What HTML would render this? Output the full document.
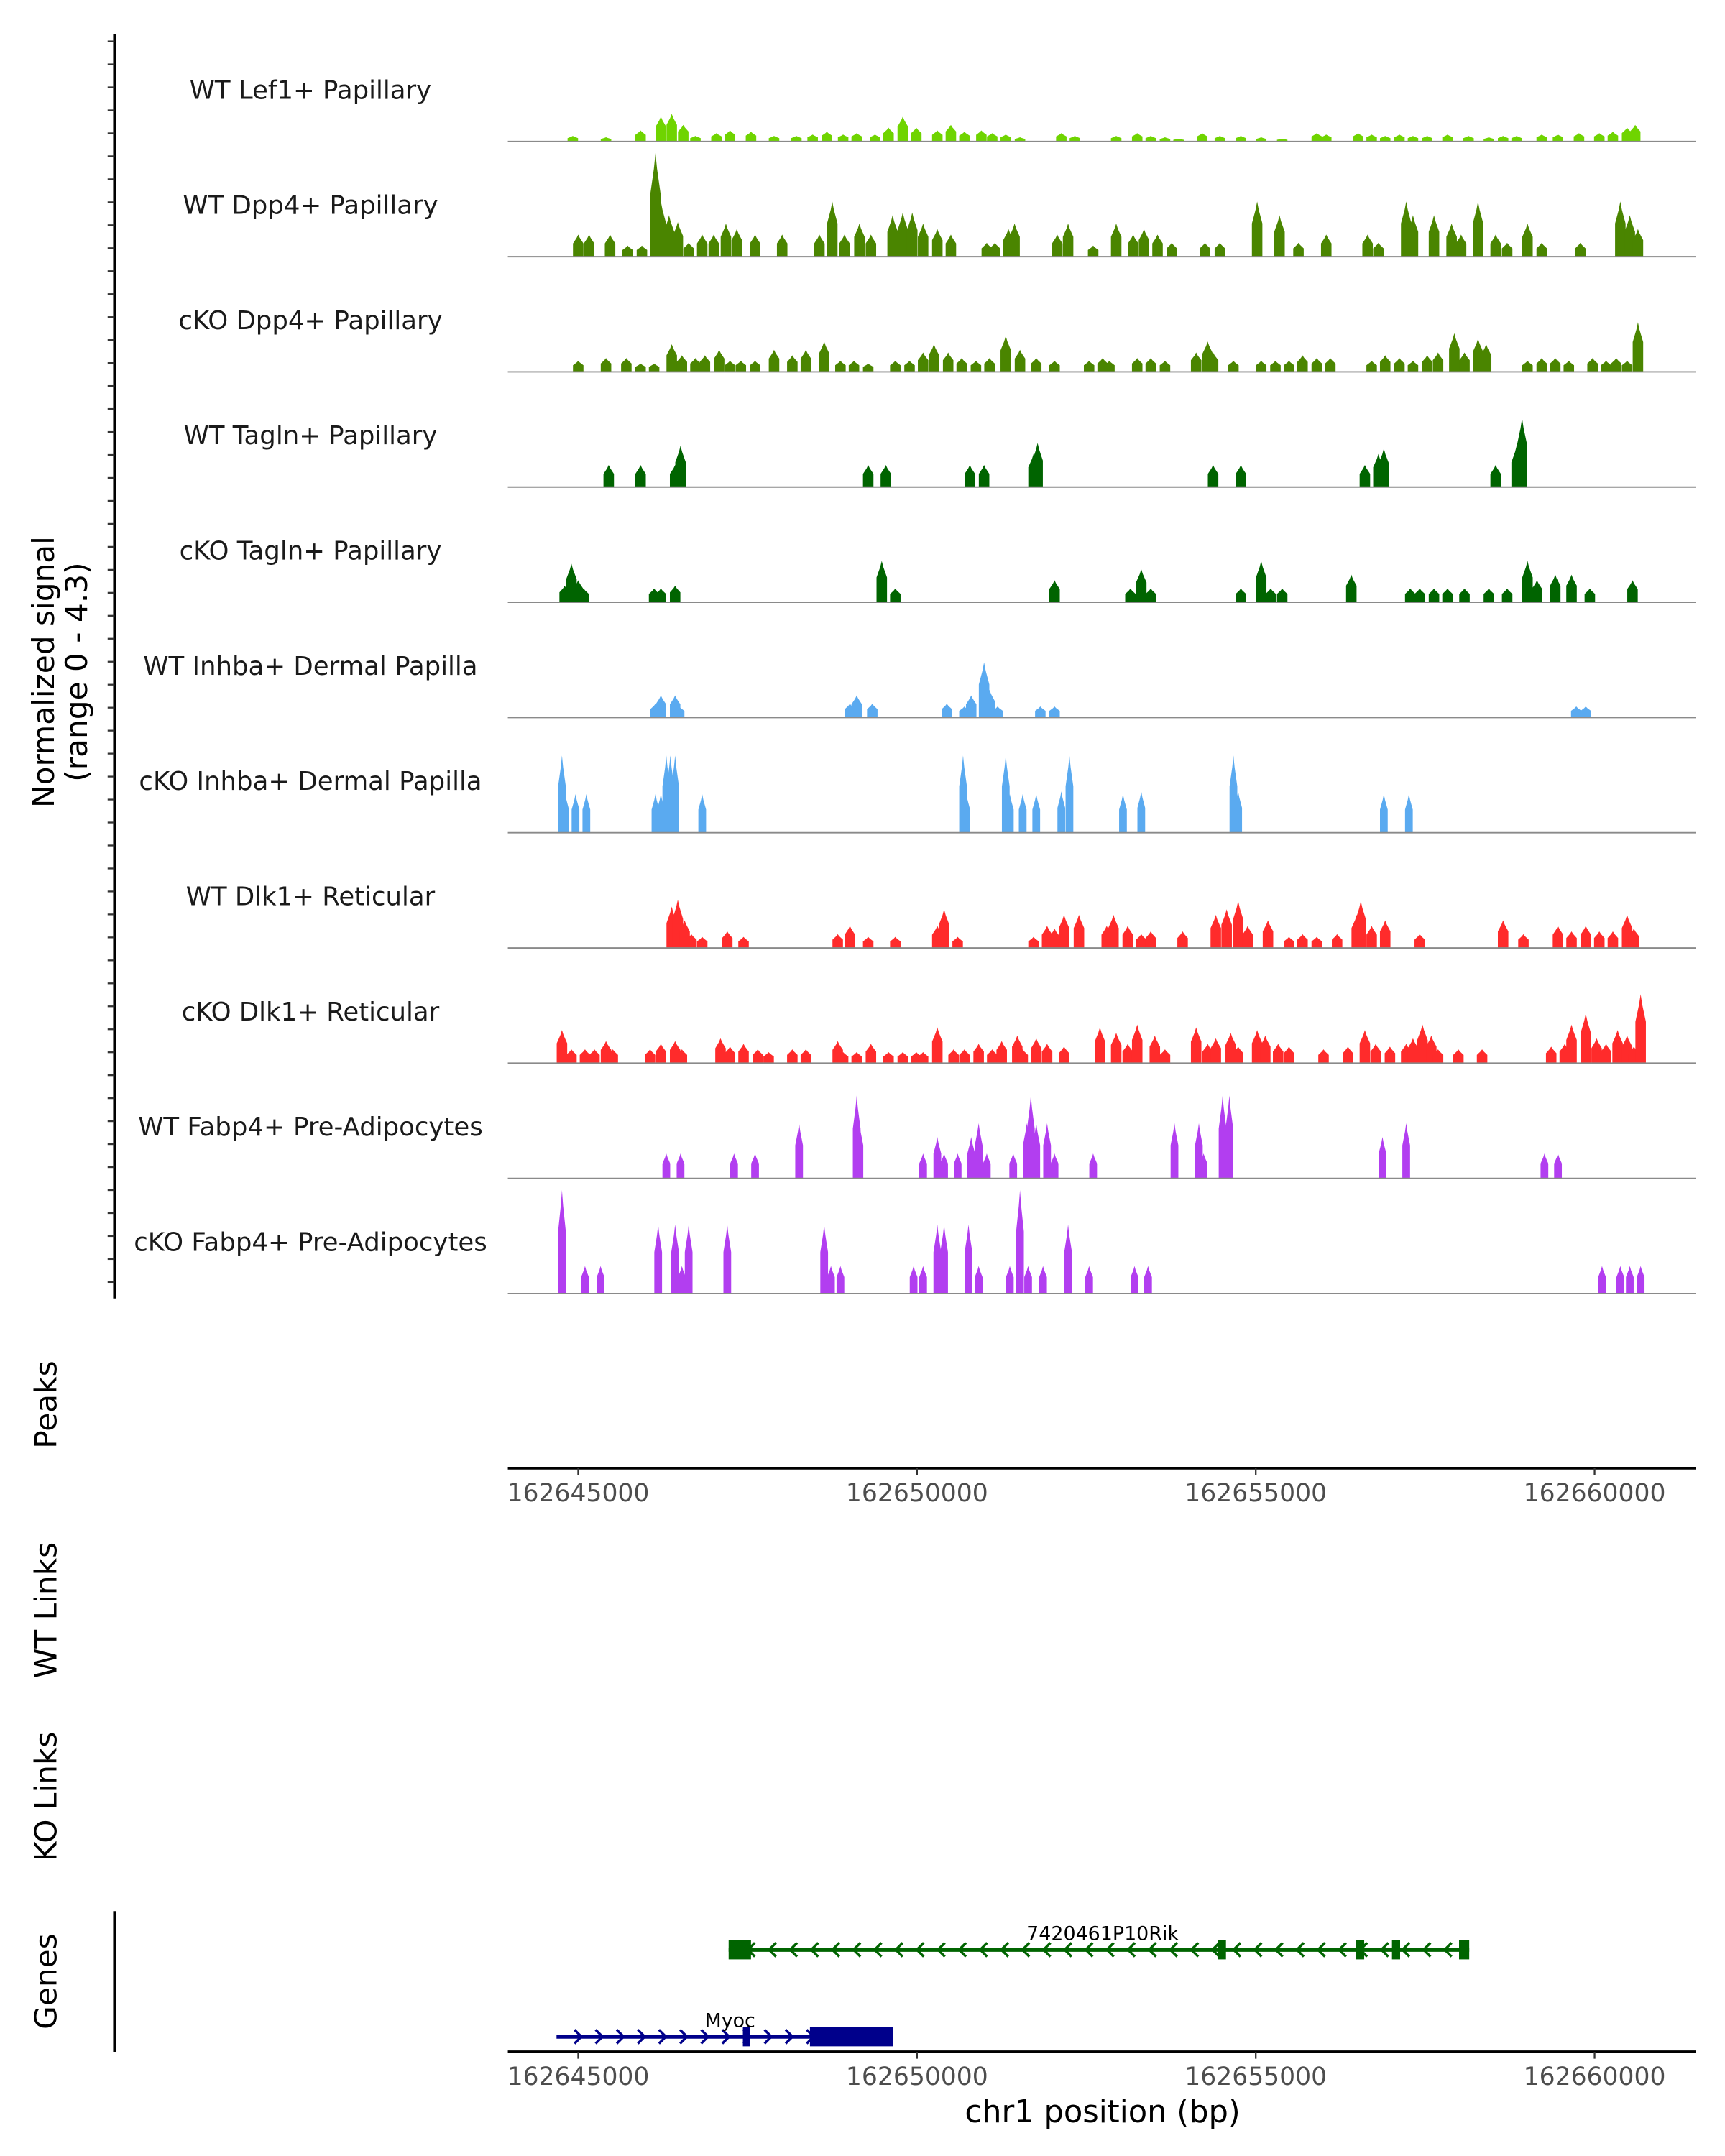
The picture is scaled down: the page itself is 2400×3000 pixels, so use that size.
<!DOCTYPE html>
<html><head><meta charset="utf-8"><style>
html,body{margin:0;padding:0;background:#fff;}
svg{display:block;font-family:"DejaVu Sans","Liberation Sans",sans-serif;}
</style></head><body>
<svg id="chart" width="2400" height="3000" viewBox="0 0 1250 1562.5" preserveAspectRatio="none" xmlns="http://www.w3.org/2000/svg">
<g id="tracks"></g>
<g id="axes"></g>
<g id="genes"></g>
</svg>
<script>
const NS="http://www.w3.org/2000/svg";
// positions are kb offsets from 162645000 bp; signal in arbitrary units (track max 80)
const trackNames=["WT Lef1+ Papillary","WT Dpp4+ Papillary","cKO Dpp4+ Papillary","WT Tagln+ Papillary","cKO Tagln+ Papillary","WT Inhba+ Dermal Papilla","cKO Inhba+ Dermal Papilla","WT Dlk1+ Reticular","cKO Dlk1+ Reticular","WT Fabp4+ Pre-Adipocytes","cKO Fabp4+ Pre-Adipocytes"];
const trackColors=["#6fd400","#4a8500","#4a8500","#006400","#006400","#5aaaf0","#5aaaf0","#ff2b2b","#ff2b2b","#b23ef0","#b23ef0"];
const xTicks=[162645000,162650000,162655000,162660000];
const pos1=[-0.08,0.41,0.92,1.22,1.38,1.55,1.73,2.04,2.24,2.55,2.89,3.22,3.46,3.67,3.91,4.11,4.38,4.58,4.79,4.99,5.30,5.50,5.70,5.95,6.11,6.31,6.52,7.13,7.33,7.94,8.25,8.45,8.66,8.86,9.21,9.47,9.78,10.08,10.39,10.90,11.04,11.51,11.71,11.91,12.12,12.32,12.53,12.83,13.14,13.44,13.65,13.85,14.22,14.46,14.77,15.07,15.27,15.48,15.60];
const sig1=[4,3,8,18,20,12,4,6,8,7,4,4,5,7,5,6,5,10,18,10,8,12,7,8,6,5,3,6,4,4,6,4,3,2,6,4,4,3,2,6,5,6,5,4,5,4,4,5,4,3,4,4,5,5,6,6,7,10,12];
const pos2=[0,0.16,0.47,0.73,0.94,1.14,1.22,1.34,1.47,1.63,1.83,2.00,2.18,2.34,2.61,3.01,3.56,3.75,3.93,4.15,4.32,4.64,4.79,4.93,5.09,5.30,5.50,6.03,6.15,6.35,6.44,7.07,7.23,7.60,7.94,8.19,8.35,8.55,8.76,9.25,9.47,10.02,10.35,10.63,11.04,11.65,11.81,12.22,12.32,12.63,12.89,13.03,13.28,13.54,13.71,14.01,14.22,14.79,15.38,15.52,15.64];
const sig2=[16,16,16,8,8,75,40,30,25,10,16,16,24,20,16,16,16,40,16,24,16,30,32,32,24,20,16,10,10,20,24,16,24,8,24,16,20,16,10,10,10,40,30,10,16,16,10,40,30,30,24,16,40,16,10,24,10,10,40,30,20];
const pos3=[0,0.41,0.71,0.92,1.12,1.38,1.53,1.73,1.87,2.08,2.24,2.40,2.61,2.89,3.16,3.36,3.63,3.87,4.07,4.28,4.68,4.89,5.09,5.25,5.46,5.66,5.87,6.07,6.31,6.52,6.76,7.03,7.54,7.74,7.84,8.25,8.45,8.66,9.12,9.29,9.37,9.67,10.08,10.29,10.49,10.69,10.90,11.10,11.71,11.91,12.12,12.32,12.53,12.69,12.93,13.08,13.28,13.40,14.01,14.22,14.42,14.62,14.97,15.17,15.32,15.48,15.64];
const sig3=[8,10,10,6,6,20,12,10,12,16,8,8,8,16,12,16,22,8,8,6,8,8,14,20,14,10,8,10,26,16,10,8,8,10,8,10,10,8,14,22,14,8,8,8,8,12,10,10,8,12,10,8,12,14,28,14,24,20,8,10,10,8,10,8,10,8,36];
const pos4=[0.45,0.92,1.43,1.51,4.28,4.54,5.78,5.99,6.72,6.78,9.37,9.78,11.61,11.81,11.89,13.54,13.85,13.93];
const sig4=[16,16,16,30,16,16,16,16,24,32,16,16,16,24,28,16,30,50];
const pos5=[-0.20,-0.10,0,0.08,1.12,1.22,1.43,4.48,4.68,7.03,8.15,8.31,8.45,9.78,10.08,10.22,10.39,11.41,12.28,12.42,12.63,12.83,13.08,13.44,13.71,14.01,14.15,14.42,14.66,14.93,15.56];
const sig5=[12,28,16,10,10,10,12,30,10,16,10,24,10,10,30,10,10,20,10,10,10,10,10,10,10,30,16,20,20,10,16];
const pos6=[1.14,1.22,1.43,1.49,4.01,4.11,4.34,5.44,5.70,5.80,5.99,6.07,6.19,6.82,7.03,14.73,14.87];
const sig6=[10,16,16,8,10,16,10,10,8,16,40,20,8,8,8,8,8];
const pos7=[-0.24,-0.20,-0.04,0.12,1.14,1.22,1.30,1.36,1.43,1.83,5.68,5.72,6.31,6.37,6.56,6.76,7.13,7.25,8.04,8.31,9.67,9.74,11.89,12.26];
const sig7=[56,30,28,28,28,28,56,56,56,28,56,30,56,28,28,28,30,56,28,30,56,30,28,28];
const pos8=[1.38,1.47,1.57,1.67,1.83,2.20,2.44,3.83,4.01,4.28,4.68,5.30,5.40,5.60,6.72,6.92,7.03,7.17,7.39,7.80,7.90,8.11,8.31,8.45,8.92,9.41,9.57,9.74,9.88,10.18,10.49,10.69,10.90,11.20,11.49,11.55,11.71,11.91,12.42,13.65,13.95,14.46,14.66,14.87,15.07,15.27,15.48,15.58];
const sig8=[30,35,20,10,8,12,8,10,16,8,8,16,28,8,8,16,14,24,24,16,24,16,10,12,12,24,28,34,16,20,8,10,8,10,24,34,16,20,10,20,10,16,12,16,12,12,24,14];
const pos9=[-0.24,-0.10,0.10,0.24,0.41,0.51,1.06,1.22,1.43,1.53,2.10,2.24,2.44,2.65,2.81,3.16,3.36,3.83,3.91,4.11,4.32,4.58,4.79,4.99,5.09,5.30,5.54,5.70,5.91,6.11,6.25,6.48,6.56,6.76,6.92,7.17,7.70,7.94,8.11,8.25,8.51,8.66,9.12,9.29,9.41,9.63,9.74,10.02,10.14,10.33,10.49,11.00,11.36,11.61,11.77,11.98,12.22,12.32,12.46,12.59,12.69,12.99,13.34,14.36,14.56,14.66,14.87,15.03,15.17,15.34,15.48,15.58,15.68];
const sig9=[24,10,10,10,16,10,10,14,16,10,18,12,14,10,8,10,10,16,8,8,14,8,8,8,8,26,10,10,14,10,16,20,10,18,14,12,26,22,14,28,20,10,26,14,18,22,12,24,20,14,12,10,12,24,14,12,14,18,28,20,10,10,10,12,14,28,36,18,14,24,20,12,50];
const pos10=[1.30,1.51,2.30,2.61,3.26,4.11,4.15,5.09,5.30,5.40,5.60,5.80,5.91,6.03,6.42,6.62,6.68,6.76,6.92,7.03,7.60,8.80,9.16,9.23,9.51,9.61,11.87,12.22,14.26,14.46];
const sig10=[18,18,18,18,40,60,40,18,30,18,18,30,40,18,18,40,60,40,40,18,18,40,40,18,60,60,30,40,18,18];
const pos11=[-0.24,0.10,0.33,1.18,1.43,1.53,1.63,2.20,3.63,3.73,3.87,4.95,5.09,5.30,5.40,5.76,5.91,6.37,6.52,6.64,6.86,7.23,7.54,8.21,8.41,15.11,15.38,15.52,15.68];
const sig11=[75,20,20,50,50,20,50,50,50,20,20,20,20,50,50,50,20,20,75,20,20,50,20,20,20,20,20,20,20];
const positions=[pos1,pos2,pos3,pos4,pos5,pos6,pos7,pos8,pos9,pos10,pos11];
const signals=[sig1,sig2,sig3,sig4,sig5,sig6,sig7,sig8,sig9,sig10,sig11];
const geneNames=["7420461P10Rik","Myoc"];
const geneStart=[162647220,162644680];
const geneEnd=[162658150,162649650];
const geneStrand=[-1,1];
const exonStarts=[[162647220,162654440,162656480,162657010,162658000],[162647430,162648420]];
const exonEnds=[[162647550,162654560,162656600,162657130,162658150],[162647530,162649650]];

const X0=162645000, PX0=419, PXPERBP=245.5/5000;
function xs(bp){return PX0+(bp-X0)*PXPERBP;}
function xk(kb){return xs(X0+kb*1000);}
const SIGMAX=80, TRACKH=83.5;
function baseY(i){return 102.5+i*TRACKH;}
function ys(i,v){return baseY(i)-v/SIGMAX*80;}

function mk(tag,attrs,parent,text){const e=document.createElementNS(NS,tag);for(const k in attrs)e.setAttribute(k,attrs[k]);if(text!==undefined)e.textContent=text;parent.appendChild(e);return e;}
const T=document.getElementById('tracks'),A=document.getElementById('axes'),G=document.getElementById('genes');
const XL=368,XR=1229;

for(let i=0;i<trackNames.length;i++){
  const g=mk('g',{},T);
  
  
  const lab=mk('text',{x:225,y:baseY(i)-31,'text-anchor':'middle','font-size':18.5,fill:'#1a1a1a'},g,trackNames[i]);
  
  
  const P=positions[i],S=signals[i];
  const w=(i===6||i===9||i===10)?2.8:3.8;
  for(let j=0;j<P.length;j++){
    const x=xk(P[j]),b=baseY(i),t=ys(i,S[j]),m=ys(i,S[j]*0.6);
    const pts=[[x-w,b],[x-w,m],[x-w*0.3,ys(i,S[j]*0.85)],[x,t],[x+w*0.3,ys(i,S[j]*0.85)],[x+w,m],[x+w,b]].map(p=>p.join(',')).join(' ');
    const p=mk('polygon',{points:pts,fill:trackColors[i]},g);
    
    
  }
  const bl=mk('line',{x1:XL,x2:XR,y1:baseY(i),y2:baseY(i),stroke:'#8a8a8a','stroke-width':1},g);
  
  
}
const la=mk('line',{x1:83,x2:83,y1:25,y2:941,stroke:'#000','stroke-width':2},A);


for(let y=30;y<940;y+=16.65){const t=mk('line',{x1:78,x2:83,y1:y,y2:y,stroke:'#333','stroke-width':1.2},A);}
function rtitle(txt,cx,cy,name,size){const t=mk('text',{transform:`translate(${cx},${cy}) rotate(-90)`,'text-anchor':'middle','font-size':size||22,fill:'#000'},A,txt);return t;}
const yt=rtitle('',0,0,'y-axis-title');yt.setAttribute('transform','translate(43,487) rotate(-90)');
mk('tspan',{x:0,dy:-4},yt,'Normalized signal');mk('tspan',{x:0,dy:24},yt,'(range 0 - 4.3)');
rtitle('Peaks',41,1018,'peaks-title');
rtitle('WT Links',41,1167,'wt-links-title');
rtitle('KO Links',41,1302,'ko-links-title');
rtitle('Genes',41,1436,'genes-title');
function xaxis(y,name){
  const l=mk('line',{x1:XL,x2:XR,y1:y,y2:y,stroke:'#000','stroke-width':2},A);
  
  
  for(const v of xTicks){
    const t=mk('line',{x1:xs(v),x2:xs(v),y1:y,y2:y+5,stroke:'#333','stroke-width':1.2},A);
    
    
    const tl=mk('text',{x:xs(v),y:y+24,'text-anchor':'middle','font-size':18,fill:'#4d4d4d'},A,String(v));
    
    
  }
}
xaxis(1064,'peaks-x-axis');
xaxis(1487,'genes-x-axis');
const xt=mk('text',{x:799,y:1538,'text-anchor':'middle','font-size':22.5,fill:'#000'},A,'chr1 position (bp)');


const ga=mk('line',{x1:83,x2:83,y1:1385,y2:1487,stroke:'#000','stroke-width':2},A);


const geneY=[1413,1476],geneCol=["#006400","#00008b"],labelX=[799,529];
for(let i=0;i<geneNames.length;i++){
  const g=mk('g',{},G);
  
  
  const y=geneY[i],c=geneCol[i];
  mk('line',{x1:xs(geneStart[i]),x2:xs(geneEnd[i]),y1:y,y2:y,stroke:c,'stroke-width':3},g);
  for(let x=xs(geneStart[i])+16;x<xs(geneEnd[i])-4;x+=15.3){
    const d=geneStrand[i]<0?`M${x+3},${y-5} L${x-2},${y} L${x+3},${y+5}`:`M${x-3},${y-5} L${x+2},${y} L${x-3},${y+5}`;
    mk('path',{d:d,fill:'none',stroke:c,'stroke-width':1.8},g);
  }
  for(let k=0;k<exonStarts[i].length;k++){
    const ex=mk('rect',{x:xs(exonStarts[i][k]),y:y-7,width:Math.max(3,xs(exonEnds[i][k])-xs(exonStarts[i][k])),height:14,fill:c},g);
    
    
  }
  const t=mk('text',{x:labelX[i],y:y-7,'text-anchor':'middle','font-size':14,fill:'#000'},g,geneNames[i]);
  
  
}
</script>
</body></html>
